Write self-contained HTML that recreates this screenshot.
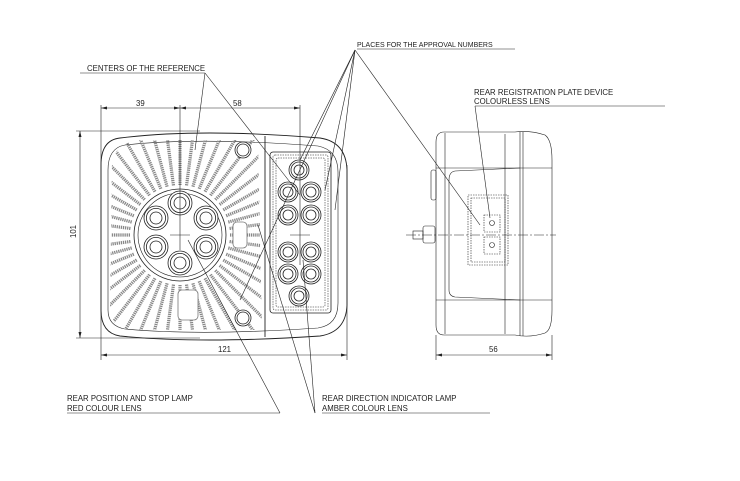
<!DOCTYPE html>
<html><head><meta charset="utf-8"><style>
html,body{margin:0;padding:0;background:#fff}
svg{display:block}
text{font-family:"Liberation Sans",sans-serif;font-size:7.8px;fill:#222}
</style></head><body>
<svg width="740" height="481" viewBox="0 0 740 481" xmlns="http://www.w3.org/2000/svg">
<defs>
<clipPath id="fc"><path d="M112 160 Q118 142 140 140 L258 140 L262 330 L130 330 Q112 328 110 310 Z"/></clipPath>
</defs>
<g fill="none" stroke="#222" stroke-width="0.9">
<path d="M120 138 Q200 128 320 138 Q346 142 347 170 L347 305 Q346 332 320 336 Q200 344 120 336 Q101 333 101 310 L101 165 Q101 140 120 138 Z"/>
<path d="M125 145 Q200 137 318 146 Q338 150 338 172 L338 303 Q338 325 318 328 Q200 336 125 329 Q108 326 108 310 L108 170 Q108 148 125 145 Z" stroke-width="0.6"/>
<line x1="265" y1="136" x2="265" y2="337"/>
</g>
<g id="fins" clip-path="url(#fc)" stroke="#888" stroke-width="3.2" stroke-dasharray="1.3 0.8"></g>
<g fill="none" stroke="#222" stroke-width="0.8">
<circle cx="180" cy="235" r="46" fill="#fff"/>
<circle cx="180" cy="235" r="42" stroke-width="0.6"/>
<rect x="233" y="222" width="14" height="26" rx="4" stroke="#777" fill="#fff"/>
<rect x="178" y="290" width="20" height="30" rx="4" stroke="#777" fill="#fff"/>
<circle cx="243" cy="150" r="8" fill="#fff"/><circle cx="243" cy="150" r="6"/>
<circle cx="243" cy="318" r="8" fill="#fff"/><circle cx="243" cy="318" r="6"/>
<rect x="270" y="152" width="61" height="161" rx="3"/>
<rect x="273" y="155" width="55" height="155" rx="2" stroke="#666" stroke-dasharray="1.5 1"/>
<rect x="276" y="158" width="49" height="149" rx="2" stroke="#666" stroke-dasharray="1.5 1"/>
</g>
<g id="lamps" fill="none" stroke="#222" stroke-width="0.8"></g>
<g fill="none" stroke="#222" stroke-width="0.6">
<line x1="180" y1="105" x2="180" y2="250"/><line x1="170" y1="235" x2="190" y2="235"/>
<line x1="300" y1="105" x2="300" y2="265"/><line x1="290" y1="235" x2="310" y2="235"/>
<line x1="101" y1="105" x2="101" y2="360"/>
<line x1="347" y1="165" x2="347" y2="360"/>
<line x1="101" y1="108" x2="300" y2="108"/>
<line x1="101" y1="355" x2="347" y2="355"/>
<line x1="76" y1="131" x2="200" y2="131"/>
<line x1="76" y1="338" x2="200" y2="338"/>
<line x1="80" y1="131" x2="80" y2="338"/>
<path d="M444 132 L515 132 Q530 130 545 135 Q552 140 552 160 L552 310 Q552 330 545 333 Q530 338 515 335 L444 335 Q436 335 436 325 L436 142 Q436 132 444 132 Z"/>
<line x1="445" y1="133" x2="445" y2="334"/>
<line x1="505" y1="134" x2="505" y2="334"/>
<line x1="520" y1="132" x2="520" y2="336"/><line x1="523" y1="132" x2="523" y2="336"/>
<line x1="436" y1="168" x2="552" y2="168"/><line x1="436" y1="300" x2="552" y2="300"/>
<path d="M520 168 L455 171 Q449 172 449 180 L449 290 Q449 296 455 297 L520 300"/>
<rect x="431" y="170" width="5" height="30" rx="2"/>
<rect x="423" y="226" width="12" height="17" rx="2"/>
<rect x="413" y="231" width="10" height="8"/>
<rect x="468" y="195" width="40" height="70" stroke-dasharray="1.5 1"/>
<rect x="471" y="198" width="34" height="64" stroke-dasharray="1.5 1"/>
<rect x="484" y="215" width="16" height="17" stroke-dasharray="1.5 1"/>
<rect x="484" y="237" width="16" height="17" stroke-dasharray="1.5 1"/>
<circle cx="492" cy="223" r="2.5"/><circle cx="492" cy="245" r="2.5"/>
<line x1="406" y1="235" x2="556" y2="235" stroke-dasharray="10 2 2 2"/>
<line x1="436" y1="335" x2="436" y2="360"/><line x1="552" y1="335" x2="552" y2="360"/>
<line x1="436" y1="355" x2="552" y2="355"/>
<line x1="357" y1="49" x2="515" y2="49"/>
<line x1="355" y1="50" x2="300" y2="160"/>
<line x1="355" y1="50" x2="240" y2="300"/>
<line x1="355" y1="50" x2="325" y2="190"/>
<line x1="355" y1="50" x2="335" y2="210"/>
<line x1="355" y1="50" x2="480" y2="225"/>
<line x1="80" y1="73" x2="205" y2="73"/>
<line x1="205" y1="73" x2="195" y2="150"/>
<line x1="205" y1="73" x2="300" y2="195"/>
<line x1="475" y1="106" x2="665" y2="106"/>
<line x1="475" y1="106" x2="490" y2="218"/>
<line x1="67" y1="413" x2="280" y2="413"/>
<line x1="280" y1="413" x2="188" y2="240"/>
<line x1="322" y1="413" x2="490" y2="413"/>
<line x1="315" y1="413" x2="303" y2="260"/>
<line x1="315" y1="413" x2="258" y2="225"/>
</g>
<g fill="#222">
<path d="M101 108 l6 -1.5 v3 z M180 108 l-6 -1.5 v3 z M180 108 l6 -1.5 v3 z M300 108 l-6 -1.5 v3z"/>
<path d="M101 355 l6 -1.5 v3 z M347 355 l-6 -1.5 v3 z M436 355 l6 -1.5 v3 z M552 355 l-6 -1.5 v3z"/>
<path d="M80 131 l-1.5 6 h3 z M80 338 l-1.5 -6 h3 z"/>
</g>
<text x="136" y="106">39</text>
<text x="233" y="106">58</text>
<text x="218" y="352">121</text>
<text x="489" y="352">56</text>
<text transform="translate(76 238) rotate(-90)">101</text>
<text x="357" y="47" style="font-size:7px">PLACES FOR THE APPROVAL NUMBERS</text>
<text x="87" y="71">CENTERS OF THE REFERENCE</text>
<text x="474" y="95">REAR REGISTRATION PLATE DEVICE</text>
<text x="474" y="104">COLOURLESS LENS</text>
<text x="67" y="401">REAR POSITION AND STOP LAMP</text>
<text x="67" y="411">RED COLOUR LENS</text>
<text x="322" y="401">REAR DIRECTION INDICATOR LAMP</text>
<text x="322" y="411">AMBER COLOUR LENS</text>
</svg>
<script>
var ns="http://www.w3.org/2000/svg";
var f=document.getElementById("fins");
for(var i=0;i<48;i++){var a=i*Math.PI*2/48;var c=Math.cos(a),s=Math.sin(a);
var l=document.createElementNS(ns,"line");
l.setAttribute("x1",180+c*50);l.setAttribute("y1",235+s*50);
l.setAttribute("x2",180+c*130);l.setAttribute("y2",235+s*130);f.appendChild(l);}
var g=document.getElementById("lamps");
function lamp(x,y,r){[r,r*0.8,r*0.5].forEach(function(rr,k){var c=document.createElementNS(ns,"circle");
c.setAttribute("cx",x);c.setAttribute("cy",y);c.setAttribute("r",rr);
c.setAttribute("fill",k==0?"#fff":"none");g.appendChild(c);});}
[[180,203],[156,218],[206,218],[156,247],[206,247],[180,263]].forEach(function(p){lamp(p[0],p[1],12)});
[[299,170],[288,192],[311,192],[288,215],[311,215],[288,252],[311,252],[288,274],[311,274],[299,296]].forEach(function(p){lamp(p[0],p[1],10)});
</script>
</body></html>
